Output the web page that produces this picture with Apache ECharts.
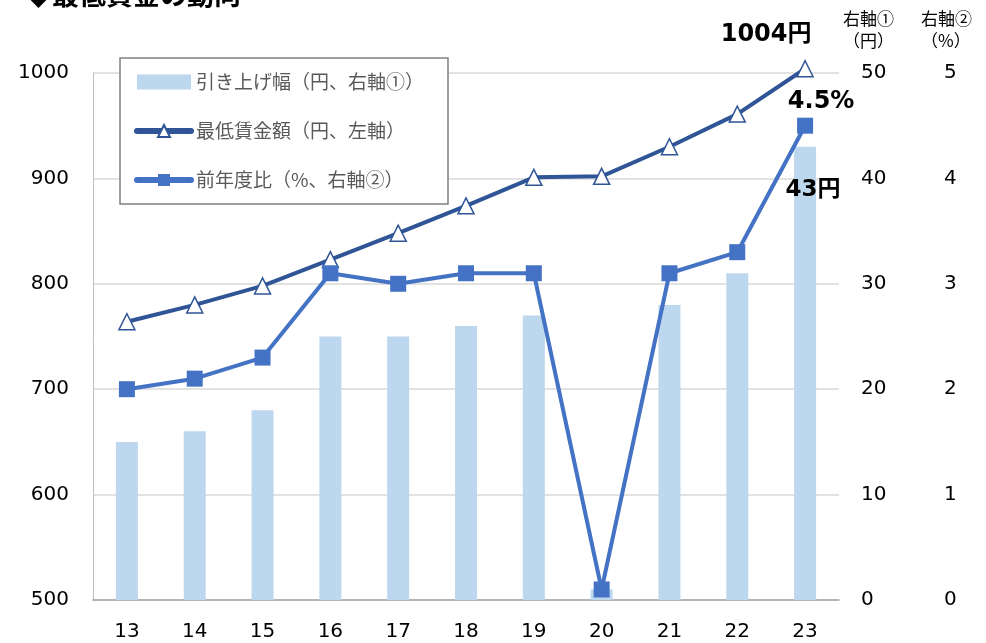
<!DOCTYPE html>
<html>
<head>
<meta charset="utf-8">
<script src="https://cdn.jsdelivr.net/npm/echarts@6/dist/echarts.min.js"></script>
<style>
  html, body { margin: 0; padding: 0; background: #fff; }
  #main { width: 986px; height: 643px; }
</style>
</head>
<body>
<div id="main"></div>
<script>
const years = ['13', '14', '15', '16', '17', '18', '19', '20', '21', '22', '23'];
const raise = [15, 16, 18, 25, 25, 26, 27, 1, 28, 31, 43];          // 引き上げ幅（円）
const wage = [764, 780, 798, 823, 848, 874, 901, 902, 930, 961, 1004]; // 最低賃金額（円）
const rate = [2.0, 2.1, 2.3, 3.1, 3.0, 3.1, 3.1, 0.1, 3.1, 3.3, 4.5];  // 前年度比（%）

const numFont = 'DejaVu Sans, Noto Sans CJK JP';
const jpFont = 'Noto Sans CJK JP';
const last = years.length - 1;

const chart = echarts.init(document.getElementById('main'));
chart.setOption({
  animation: false,
  grid: { left: 93, right: 147, top: 73, bottom: 43 },
  graphic: [
    {
      type: 'text', left: 25, top: -19,
      style: { text: '◆最低賃金の動向', font: 'bold 27px ' + jpFont, fill: '#000' }
    },
    {
      type: 'text', left: 843, top: 8,
      style: { text: '右軸①\n（円）', font: '17px ' + jpFont, fill: '#000', align: 'left', lineHeight: 22 }
    },
    {
      type: 'text', left: 921, top: 8,
      style: { text: '右軸②\n（%）', font: '17px ' + jpFont, fill: '#000', align: 'left', lineHeight: 22 }
    }
  ],
  legend: {
    orient: 'vertical',
    left: 120,
    top: 58,
    padding: [13, 24, 13, 14],
    itemGap: 27,
    itemWidth: 54,
    itemHeight: 15,
    backgroundColor: '#fff',
    borderColor: '#808080',
    borderWidth: 1.5,
    z: 10,
    textStyle: { color: '#595959', fontSize: 19, fontFamily: jpFont, lineHeight: 22 },
    data: [
      { name: '引き上げ幅（円、右軸①）', icon: 'rect' },
      { name: '最低賃金額（円、左軸）', itemStyle: { borderWidth: 2 }, lineStyle: { width: 6, cap: 'round' } },
      { name: '前年度比（%、右軸②）', lineStyle: { width: 6, cap: 'round' } }
    ]
  },
  xAxis: {
    type: 'category',
    data: years,
    axisLine: { lineStyle: { color: '#a6a6a6', width: 1.5 } },
    axisTick: { show: false },
    axisLabel: { color: '#000', fontSize: 20, fontFamily: numFont, margin: 22 }
  },
  yAxis: [
    {
      type: 'value', min: 500, max: 1000, interval: 100,
      axisLine: { show: true, lineStyle: { color: '#bfbfbf' } },
      axisTick: { show: false },
      splitLine: { lineStyle: { color: '#d9d9d9', width: 1.5 } },
      axisLabel: { color: '#000', fontSize: 20, fontFamily: numFont, margin: 24, formatter: v => String(v) }
    },
    {
      type: 'value', min: 0, max: 50, interval: 10, position: 'right',
      axisLine: { show: false }, axisTick: { show: false }, splitLine: { show: false },
      axisLabel: { color: '#000', fontSize: 20, fontFamily: numFont, margin: 22 }
    },
    {
      type: 'value', min: 0, max: 5, interval: 1, position: 'right', offset: 90,
      axisLine: { show: false }, axisTick: { show: false }, splitLine: { show: false },
      axisLabel: { color: '#000', fontSize: 20, fontFamily: numFont, margin: 15 }
    }
  ],
  series: [
    {
      name: '引き上げ幅（円、右軸①）',
      type: 'bar',
      yAxisIndex: 1,
      barWidth: 22,
      data: raise,
      itemStyle: { color: '#bdd7ee' },
      label: {
        show: true,
        position: 'insideTop',
        offset: [8, 27],
        fontSize: 23, fontWeight: 'bold', fontFamily: numFont, color: '#000',
        formatter: p => (p.dataIndex === last ? p.value + '円' : '')
      }
    },
    {
      name: '最低賃金額（円、左軸）',
      type: 'line',
      yAxisIndex: 0,
      data: wage,
      clip: false,
      symbol: 'triangle',
      symbolSize: 16,
      lineStyle: { color: '#2f5597', width: 4 },
      itemStyle: { color: '#fff', borderColor: '#2f5597', borderWidth: 1.5 },
      label: {
        show: true,
        position: 'top',
        offset: [-39, -8],
        fontSize: 24, fontWeight: 'bold', fontFamily: numFont, color: '#000',
        formatter: p => (p.dataIndex === last ? p.value + '円' : '')
      },
      z: 3
    },
    {
      name: '前年度比（%、右軸②）',
      type: 'line',
      yAxisIndex: 2,
      data: rate,
      symbol: 'rect',
      symbolSize: 16,
      lineStyle: { color: '#4472c4', width: 4 },
      itemStyle: { color: '#4472c4' },
      label: {
        show: true,
        position: 'top',
        offset: [16, 1],
        fontSize: 24, fontWeight: 'bold', fontFamily: numFont, color: '#000',
        formatter: p => (p.dataIndex === last ? p.value.toFixed(1) + '%' : '')
      },
      z: 4
    }
  ]
});
</script>
</body>
</html>
